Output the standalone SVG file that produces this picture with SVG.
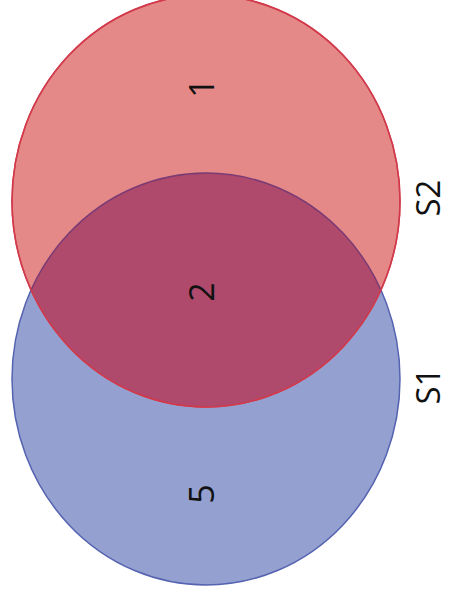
<svg xmlns="http://www.w3.org/2000/svg" width="449" height="601" viewBox="0 0 449 601">
<style>
.lbl{font-family:"Open Sans","Liberation Sans",sans-serif;font-size:34px;fill:#111;text-anchor:middle}
.sl{font-family:"Open Sans","Liberation Sans",sans-serif;font-size:33px;fill:#111;text-anchor:middle}
</style>
<defs>
<clipPath id="clipRed"><ellipse cx="206" cy="201" rx="194" ry="206"/></clipPath>
</defs>
<rect width="449" height="601" fill="#ffffff"/>
<g id="S1">
<ellipse cx="206" cy="379" rx="194" ry="206" fill="#94A0D0" stroke="#5563B0" stroke-width="1.5"/>
</g>
<g id="S2">
<ellipse cx="206" cy="201" rx="194" ry="206" fill="#E48888" stroke="#D8404C" stroke-width="1.5"/>
</g>
<g id="overlap">
<ellipse cx="206" cy="379" rx="194" ry="206" fill="#AF4A6C" stroke="#7B3B74" stroke-width="1.5" clip-path="url(#clipRed)"/>
<ellipse cx="206" cy="201" rx="194" ry="206" fill="none" stroke="#D03A4C" stroke-width="1.5"/>
</g>
<g id="labels">
<text class="lbl" transform="translate(214,88) rotate(-90)">1</text>
<text class="lbl" transform="translate(214,292) rotate(-90)">2</text>
<text class="lbl" transform="translate(214,494) rotate(-90)">5</text>
<text class="sl" transform="translate(440,198) rotate(-90)">S2</text>
<text class="sl" transform="translate(440,386) rotate(-90)">S1</text>
</g>
</svg>
